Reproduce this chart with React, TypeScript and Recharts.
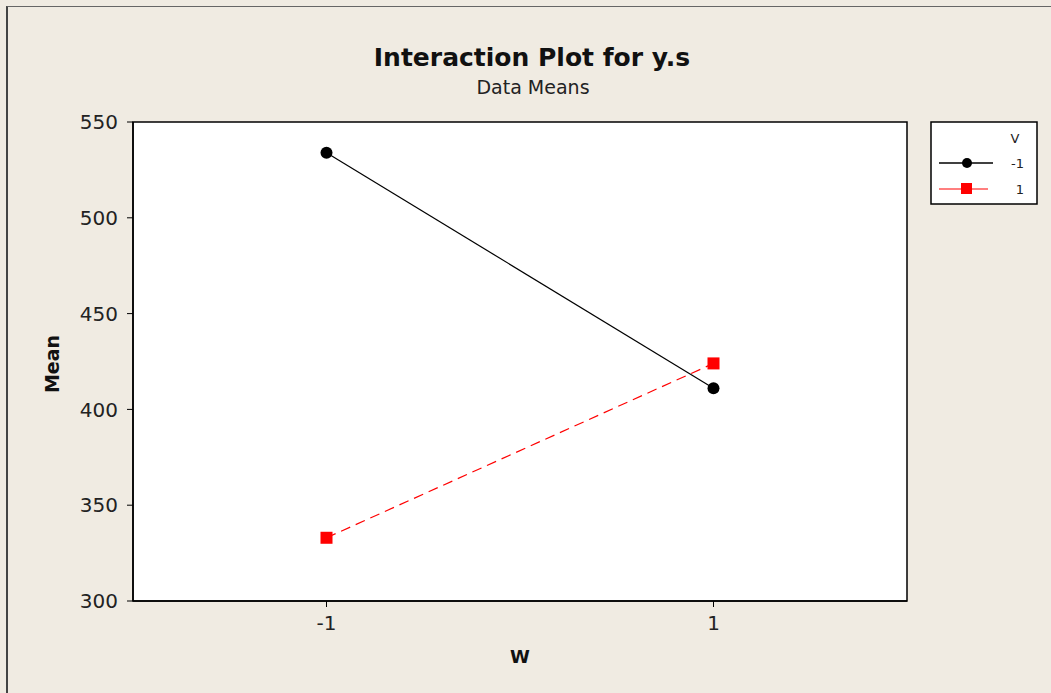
import { LineChart, Line, XAxis, YAxis, ReferenceArea } from 'recharts';

// W levels on the x axis, V levels as series
const wLevels = [-1, 1];
const meanVNeg1 = [534, 411];
const meanVPos1 = [333, 424];
const yTicks = [300, 350, 400, 450, 500, 550];
const xTicks = [-1, 1];
const legendTitle = 'V';
const seriesNames = ['-1', '1'];

const chartData = wLevels.map((w, i) => ({
    w,
    vNeg: meanVNeg1[i],
    vPos: meanVPos1[i],
}));

const FONT = 'Verdana, "DejaVu Sans", sans-serif';

function SquareDot(props: any) {
    const { cx, cy } = props;
    if (cx == null || cy == null) return null;
    return <rect x={cx - 6} y={cy - 6} width={12} height={12} fill="#ff0000" />;
}

function CircleDot(props: any) {
    const { cx, cy } = props;
    if (cx == null || cy == null) return null;
    return <circle cx={cx} cy={cy} r={6} fill="#000" />;
}

// Minitab-style legend box, sits right of the plot
function LegendBox() {
    return (
        <svg width={108} height={84} style={{ position: 'absolute', left: 930, top: 121 }}>
            <rect x={1} y={1} width={106} height={82} fill="#fff" stroke="#000" strokeWidth={1.5} />
            <text x={85} y={22} fontSize={13} fontFamily={FONT} fill="#222" textAnchor="middle">{legendTitle}</text>
            <line x1={9} y1={42} x2={63} y2={42} stroke="#000" strokeWidth={1.5} />
            <circle cx={37} cy={42} r={5} fill="#000" />
            <text x={94} y={47} fontSize={13} fontFamily={FONT} fill="#222" textAnchor="end">{seriesNames[0]}</text>
            <line x1={9} y1={68} x2={58} y2={68} stroke="#ff0000" strokeWidth={1.2} />
            <rect x={31} y={62} width={11} height={11} fill="#ff0000" />
            <text x={94} y={73} fontSize={13} fontFamily={FONT} fill="#222" textAnchor="end">{seriesNames[1]}</text>
        </svg>
    );
}

export default function App() {
    return (
        <div style={{ position: 'fixed', left: 0, top: 0, width: 1051, height: 693, background: '#f0ebe2', fontFamily: FONT }}>
            <div style={{ position: 'absolute', left: 6, top: 6, right: 0, bottom: 0, borderLeft: '2px solid #444', borderTop: '1px solid #666' }} />
            <div style={{ position: 'absolute', left: 532, top: 57, transform: 'translate(-50%, -50%)', whiteSpace: 'nowrap', fontFamily: 'Tahoma, "DejaVu Sans", sans-serif', fontWeight: 'bold', fontSize: 25, color: '#111' }}>
                Interaction Plot for y.s
            </div>
            <div style={{ position: 'absolute', left: 533, top: 87, transform: 'translate(-50%, -50%)', whiteSpace: 'nowrap', fontSize: 19, color: '#222' }}>
                Data Means
            </div>
            <div style={{ position: 'absolute', left: 52, top: 364, transform: 'translate(-50%, -50%) rotate(-90deg)', fontWeight: 'bold', fontSize: 19, color: '#111' }}>
                Mean
            </div>
            <div style={{ position: 'absolute', left: 520, top: 656, transform: 'translate(-50%, -50%)', fontWeight: 'bold', fontSize: 18, color: '#111' }}>
                W
            </div>
            <div style={{ position: 'absolute', left: 0, top: 0 }}>
                <LineChart width={1051} height={693} data={chartData} margin={{ top: 122, right: 144, bottom: 52, left: 63 }}>
                    <XAxis
                        dataKey="w"
                        type="number"
                        domain={[-2, 2]}
                        ticks={xTicks}
                        height={40}
                        axisLine={{ stroke: '#000', strokeWidth: 1.5 }}
                        tickLine={{ stroke: '#000' }}
                        tickSize={6}
                        tickMargin={9}
                        tick={{ fontSize: 20, fill: '#222', fontFamily: FONT }}
                    />
                    <YAxis
                        type="number"
                        domain={[300, 550]}
                        ticks={yTicks}
                        width={70}
                        axisLine={{ stroke: '#000', strokeWidth: 1.5 }}
                        tickLine={{ stroke: '#000' }}
                        tickSize={6}
                        tickMargin={9}
                        tick={{ fontSize: 20, fill: '#222', fontFamily: FONT }}
                    />
                    <ReferenceArea x1={-2} x2={2} y1={300} y2={550} fill="#fff" fillOpacity={1} stroke="#000" strokeWidth={1.5} />
                    <Line
                        dataKey="vNeg"
                        name={seriesNames[0]}
                        stroke="#000"
                        strokeWidth={1.2}
                        dot={<CircleDot />}
                        isAnimationActive={false}
                    />
                    <Line
                        dataKey="vPos"
                        name={seriesNames[1]}
                        stroke="#ff0000"
                        strokeWidth={1.2}
                        strokeDasharray="10 6"
                        dot={<SquareDot />}
                        isAnimationActive={false}
                    />
                </LineChart>
            </div>
            <LegendBox />
        </div>
    );
}
